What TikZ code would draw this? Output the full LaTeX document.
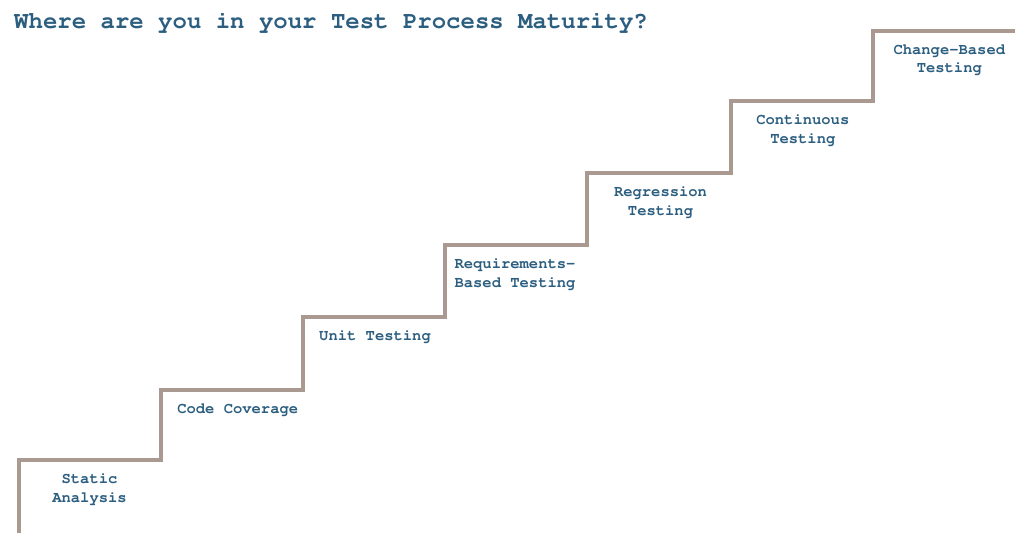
\documentclass[tikz,border=0pt]{standalone}
\usepackage[T1]{fontenc}
\newcommand{\stairmono}{\fontencoding{T1}\fontfamily{pcr}\fontseries{b}\selectfont}
\definecolor{stairline}{RGB}{170,153,144}
\definecolor{stairtext}{RGB}{44,94,128}
\begin{document}
\begin{tikzpicture}[x=1pt,y=-1pt,
  stairpath/.style={draw=stairline,line width=4pt,line join=miter},
  titletext/.style={font=\fontsize{24}{28}\stairmono,text=stairtext,anchor=base west,inner sep=0pt},
  steplabel/.style={font=\fontsize{15.5}{18.5}\stairmono,text=stairtext,align=center,anchor=base,inner sep=0pt}]
\useasboundingbox (0,0) rectangle (1024,533);
\node[titletext] (title) at (14,28) {Where are you in your Test Process Maturity?};
\draw[stairpath] (19,533) -- (19,460) -- (161,460) -- (161,390) -- (303,390) -- (303,317)
  -- (445,317) -- (445,245) -- (587,245) -- (587,173) -- (731,173) -- (731,101)
  -- (873,101) -- (873,30.5) -- (1015,30.5);
\node[steplabel] (s1) at (89.5,502) {Static\\Analysis};
\node[steplabel] (s2) at (237.7,413.5) {Code Coverage};
\node[steplabel] (s3) at (375,340.5) {Unit Testing};
\node[steplabel,align=left] (s4) at (515,287) {Requirements-\\Based Testing};
\node[steplabel] (s5) at (660.5,215) {Regression\\Testing};
\node[steplabel] (s6) at (802.8,143) {Continuous\\Testing};
\node[steplabel] (s7) at (949.3,72.5) {Change-Based\\Testing};
\end{tikzpicture}
\end{document}
